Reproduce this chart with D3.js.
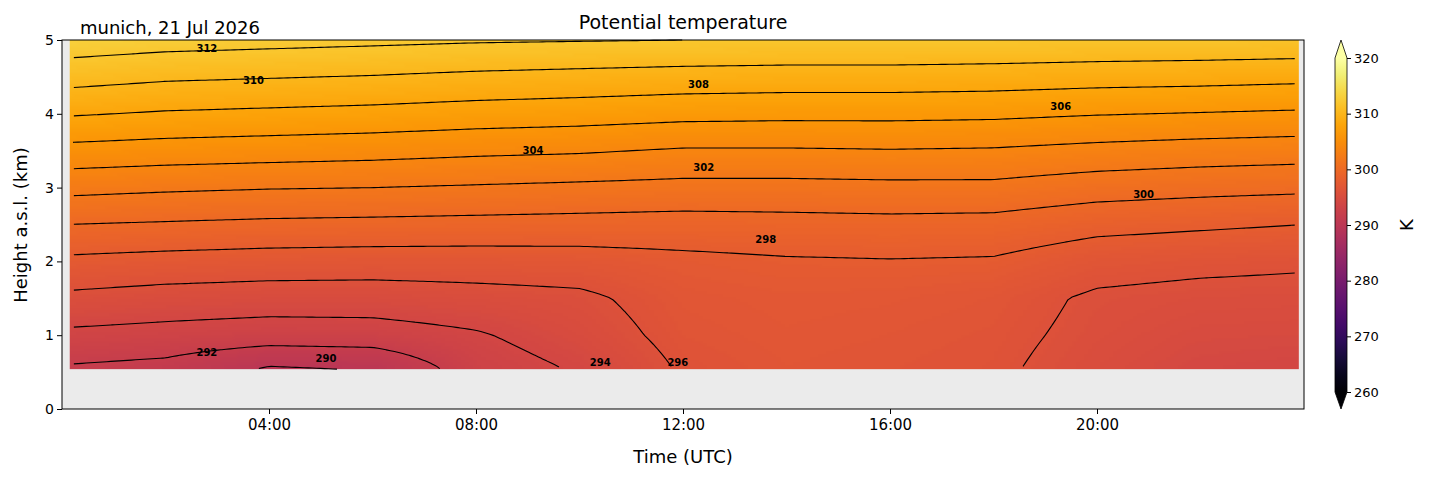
<!DOCTYPE html>
<html>
<head>
<style>
body{margin:0;background:#fff;font-family:"DejaVu Sans",sans-serif;}
</style>
<script src="https://cdn.jsdelivr.net/npm/d3@7"></script>
</head>
<body>
<svg id="chart" width="1429" height="478"></svg>
<script>
// grid: hours, heights (km), potential temperature (K) per time column
const times = [0,2,4,6,8,10,12,14,16,18,20,22,24];
const heights = [0.55,1,1.5,2,2.5,3,3.5,4,4.5,5];
const theta = [
 [291.8,293.6,295.6,297.6,300.0,302.6,305.4,308.2,310.8,313.2],
 [291.4,293.3,295.2,297.3,299.8,302.3,305.1,307.8,310.3,312.8],
 [289.8,293.0,295.0,297.1,299.6,302.1,304.9,307.6,310.1,312.6],
 [290.1,293.1,295.0,297.0,299.5,302.0,304.7,307.4,309.9,312.4],
 [293.0,293.8,295.3,297.0,299.4,301.8,304.4,307.1,309.6,312.2],
 [294.2,295.0,295.6,297.1,299.3,301.6,304.2,306.9,309.4,312.1],
 [296.2,296.6,296.9,297.5,299.2,301.4,303.8,306.6,309.2,312.0],
 [296.8,297.0,297.2,297.8,299.3,301.4,303.8,306.5,309.1,311.9],
 [296.6,296.8,297.1,297.9,299.4,301.5,303.9,306.5,309.1,311.9],
 [296.3,296.5,296.8,297.8,299.3,301.5,303.8,306.4,309.0,311.8],
 [295.2,295.5,295.7,296.8,298.6,300.9,303.4,306.1,308.8,311.7],
 [294.3,294.8,295.4,296.5,298.3,300.6,303.1,305.9,308.7,311.6],
 [294.0,294.7,295.3,296.3,298.0,300.4,302.9,305.7,308.5,311.5]
];
const levels = d3.range(290, 314, 2);
const labels = [[312,2.8,4.88],[310,3.7,4.45],[308,12.3,4.4],[306,19.3,4.1],[304,9.1,3.5],[302,12.4,3.27],[300,20.9,2.9],[298,13.6,2.3],[292,2.8,0.77],[290,5.1,0.69],[294,10.4,0.63],[296,11.9,0.63]];
const xTicks = [4,8,12,16,20];
const yTicks = [0,1,2,3,4,5];
const cbTicks = [260,270,280,290,300,310,320];

const svg = d3.select('#chart');
const L=62,R=1304,T=40,B=409;
const x = d3.scaleLinear().domain([0,24]).range([L,R]);
const y = d3.scaleLinear().domain([0,5]).range([B,T]);
const color = d3.scaleSequential(d3.interpolateInferno).domain([260,320]);

svg.append('rect').attr('x',L).attr('y',T).attr('width',R-L).attr('height',B-T).attr('fill','#ebebeb');

// bilinear sampling of the grid for rendering
function sample(t,h){
  let i=Math.min(times.length-2,Math.max(0,d3.bisectRight(times,t)-1));
  let j=Math.min(heights.length-2,Math.max(0,d3.bisectRight(heights,h)-1));
  const u=Math.max(0,Math.min(1,(t-times[i])/(times[i+1]-times[i])));
  const v=Math.max(0,Math.min(1,(h-heights[j])/(heights[j+1]-heights[j])));
  return (1-u)*(1-v)*theta[i][j]+u*(1-v)*theta[i+1][j]+(1-u)*v*theta[i][j+1]+u*v*theta[i+1][j+1];
}
const t0=0.15,t1=23.9,h0=0.54,h1=5;
const nx=300,ny=120;
const vals=new Array(nx*ny);
for(let r=0;r<ny;r++)for(let c=0;c<nx;c++){
  vals[r*nx+c]=sample(t0+(t1-t0)*c/(nx-1), h1-(h1-h0)*r/(ny-1));
}
const cv=document.createElement('canvas');cv.width=nx;cv.height=ny;
const ctx=cv.getContext('2d');const img=ctx.createImageData(nx,ny);
vals.forEach((v,k)=>{const c=d3.rgb(color(v));img.data[k*4]=c.r;img.data[k*4+1]=c.g;img.data[k*4+2]=c.b;img.data[k*4+3]=255;});
ctx.putImageData(img,0,0);
svg.append('image').attr('href',cv.toDataURL()).attr('x',x(t0)).attr('y',y(h1))
  .attr('width',x(t1)-x(t0)).attr('height',y(h0)-y(h1)).attr('preserveAspectRatio','none');

const contours=d3.contours().size([nx,ny]).thresholds(levels)(vals);
const proj=d3.geoTransform({point:function(px,py){
  this.stream.point(x(t0)+(px-0.5)/(nx-1)*(x(t1)-x(t0)), y(h1)+(py-0.5)/(ny-1)*(y(h0)-y(h1)));
}});
// draw only the isoline edges, skipping segments along grid border
const g=svg.append('g');
contours.forEach(c=>{
  c.coordinates.forEach(poly=>poly.forEach(ring=>{
    let seg=[];
    const flush=()=>{if(seg.length>1)g.append('path').attr('d',d3.geoPath(proj)({type:'LineString',coordinates:seg})).attr('fill','none').attr('stroke','#000').attr('stroke-width',1.1);seg=[];};
    ring.forEach(p=>{
      const onEdge=p[0]<=0.5||p[0]>=nx-0.5||p[1]<=0.5||p[1]>=ny-0.5;
      if(onEdge){flush();} else seg.push(p);
    });
    flush();
  }));
});
labels.forEach(([lv,t,h])=>{
  svg.append('text').attr('x',x(t)).attr('y',y(h)).attr('dy','0.35em').attr('text-anchor','middle')
    .attr('font-size',10).attr('font-weight','bold').text(lv);
});

svg.append('rect').attr('x',L).attr('y',T).attr('width',R-L).attr('height',B-T).attr('fill','none').attr('stroke','#000');
const xa=svg.append('g').attr('transform',`translate(0,${B})`)
  .call(d3.axisBottom(x).tickValues(xTicks).tickSize(5).tickPadding(5).tickFormat(d=>String(d).padStart(2,'0')+':00'));
const ya=svg.append('g').attr('transform',`translate(${L},0)`).call(d3.axisLeft(y).tickValues(yTicks).tickSize(5).tickFormat(d3.format('d')));
[xa,ya].forEach(a=>{a.select('.domain').remove();a.selectAll('text').attr('font-size',14).attr('font-family','DejaVu Sans').attr('fill','#000');});
xa.selectAll('text').attr('font-size',15);

svg.append('text').attr('x',683).attr('y',29).attr('text-anchor','middle').attr('font-size',19).text('Potential temperature');
svg.append('text').attr('x',80).attr('y',34).attr('font-size',18).text('munich, 21 Jul 2026');
svg.append('text').attr('x',683).attr('y',463).attr('text-anchor','middle').attr('font-size',18).text('Time (UTC)');
svg.append('text').attr('transform','translate(27,225) rotate(-90)').attr('text-anchor','middle').attr('font-size',18).text('Height a.s.l. (km)');

// colorbar
const cy=d3.scaleLinear().domain([260,320]).range([392,58]);
const cx=1335,cw=12;
const grad=svg.append('defs').append('linearGradient').attr('id','cb').attr('x1',0).attr('x2',0).attr('y1',1).attr('y2',0);
d3.range(0,1.001,0.05).forEach(f=>grad.append('stop').attr('offset',f).attr('stop-color',color(260+60*f)));
svg.append('rect').attr('x',cx).attr('y',cy(320)).attr('width',cw).attr('height',cy(260)-cy(320)).attr('fill','url(#cb)');
svg.append('path').attr('d',`M${cx},${cy(320)}L${cx+cw/2},40L${cx+cw},${cy(320)}Z`).attr('fill',color(320));
svg.append('path').attr('d',`M${cx},${cy(260)}L${cx+cw/2},409L${cx+cw},${cy(260)}Z`).attr('fill',color(260));
svg.append('path').attr('d',`M${cx},${cy(320)}L${cx+cw/2},40L${cx+cw},${cy(320)}L${cx+cw},${cy(260)}L${cx+cw/2},409L${cx},${cy(260)}Z`).attr('fill','none').attr('stroke','#000').attr('stroke-width',0.8);
const ca=svg.append('g').attr('transform',`translate(${cx+cw},0)`).call(d3.axisRight(cy).tickValues(cbTicks).tickSize(4));
ca.select('.domain').remove();
ca.selectAll('text').attr('font-size',13).attr('font-family','DejaVu Sans').attr('fill','#000');
svg.append('text').attr('transform','translate(1413,225) rotate(-90)').attr('text-anchor','middle').attr('font-size',18).text('K');
</script>
</body>
</html>
